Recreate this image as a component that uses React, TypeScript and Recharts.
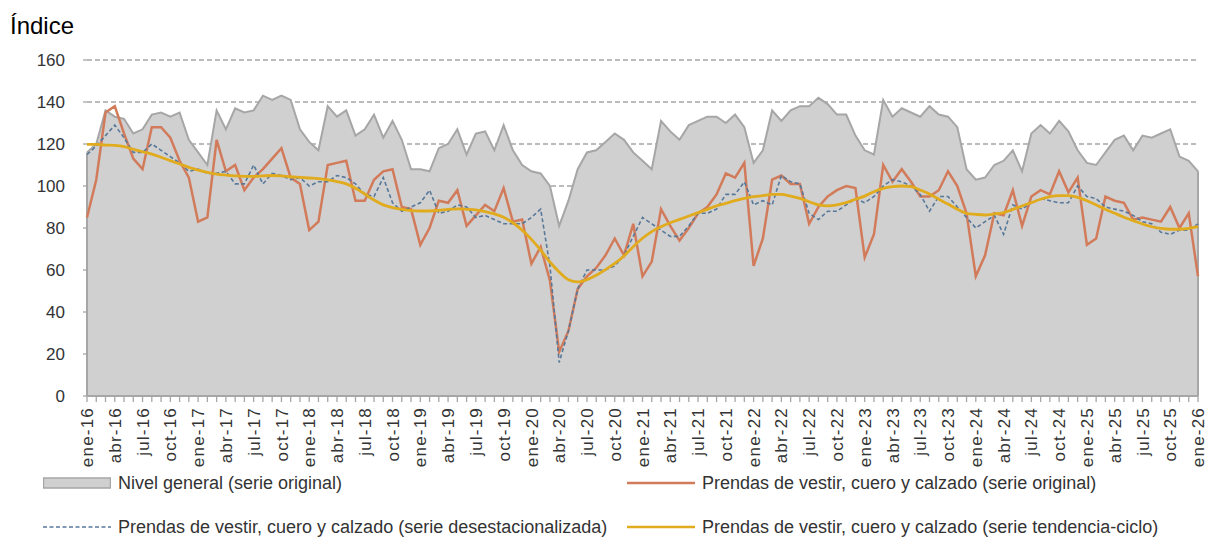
import React from "react";
import {
  ComposedChart, Area, Line, XAxis, YAxis, CartesianGrid, ReferenceLine
} from "recharts";

const MONTHS = ["ene", "feb", "mar", "abr", "may", "jun", "jul", "ago", "sep", "oct", "nov", "dic"];
const YEARS = ["16", "17", "18", "19", "20", "21", "22", "23", "24", "25", "26"];
const CATEGORIES = YEARS.flatMap(y => MONTHS.map(m => `${m}-${y}`)).slice(0, 121);

const Y_TICKS = [0, 20, 40, 60, 80, 100, 120, 140, 160];

// Nivel general (serie original)
const NIVEL = [
  116, 120, 136, 133, 132, 125, 127, 134, 135, 133, 135, 122,
  116, 110, 136, 127, 137, 135, 136, 143, 141, 143, 141, 127,
  121, 117, 138, 133, 136, 124, 127, 134, 123, 131, 122, 108,
  108, 107, 118, 120, 127, 115, 125, 126, 117, 129, 117, 110,
  107, 106, 100, 81, 93, 108, 116, 117, 121, 125, 122, 116,
  112, 108, 131, 126, 122, 129, 131, 133, 133, 130, 134, 128,
  111, 117, 136, 131, 136, 138, 138, 142, 139, 134, 134, 124,
  117, 115, 141, 133, 137, 135, 133, 138, 134, 133, 128, 108,
  103, 104, 110, 112, 117, 107, 125, 129, 125, 131, 126, 117,
  111, 110, 116, 122, 124, 117, 124, 123, 125, 127, 114, 112,
  107,
];

// Prendas de vestir, cuero y calzado (serie original)
const PRENDAS_ORIG = [
  85, 103, 135, 138, 125, 113, 108, 128, 128, 123, 112, 104,
  83, 85, 122, 107, 110, 98, 104, 108, 113, 118, 104, 101,
  79, 83, 110, 111, 112, 93, 93, 103, 107, 108, 90, 89,
  72, 80, 93, 92, 98, 81, 86, 91, 88, 99, 83, 84,
  63, 71, 55, 21, 31, 51, 57, 61, 67, 75, 67, 82,
  57, 64, 89, 81, 74, 80, 87, 90, 96, 106, 104, 111,
  62, 75, 103, 105, 101, 101, 82, 90, 95, 98, 100, 99,
  66, 77, 110, 102, 108, 102, 95, 95, 98, 107, 100, 87,
  57, 67, 87, 86, 98, 81, 95, 98, 96, 107, 97, 104,
  72, 75, 95, 93, 92, 84, 85, 84, 83, 90, 80, 87,
  57,
];

// Prendas de vestir, cuero y calzado (serie desestacionalizada)
const PRENDAS_DESEST = [
  115, 119, 124, 129, 123, 116, 116, 120, 117, 114, 111, 107,
  108, 106, 106, 107, 101, 101, 110, 101, 106, 105, 103, 104,
  100, 102, 102, 105, 104, 101, 96, 95, 104, 92, 88, 90,
  92, 98, 87, 88, 91, 90, 85, 86, 84, 82, 82, 82,
  85, 89, 62, 16, 31, 51, 60, 60, 60, 62, 67, 76,
  85, 82, 79, 76, 76, 81, 87, 87, 89, 96, 96, 102,
  91, 93, 91, 105, 102, 101, 87, 84, 88, 88, 91, 94,
  92, 95, 100, 103, 102, 100, 96, 88, 95, 95, 90, 85,
  80, 83, 86, 77, 91, 89, 92, 94, 93, 92, 92, 100,
  95, 94, 90, 89, 88, 86, 83, 82, 78, 77, 79, 79,
  82,
];

// Prendas de vestir, cuero y calzado (serie tendencia-ciclo)
const PRENDAS_TC = [
  119.8, 119.8, 119.5, 119.3, 118.7, 117.5, 116.3, 115.2, 113.7, 112.1, 110.5, 108.9,
  107.6, 106.5, 105.7, 105.2, 104.8, 104.6, 104.6, 104.8, 105, 104.8, 104.4, 104.1,
  103.8, 103.5, 102.9, 102.1, 101, 98.9, 96.2, 93.3, 91, 89.7, 88.9, 88.3,
  88.1, 88.1, 88.4, 88.9, 89.1, 88.9, 88.6, 87.8, 86.7, 85.1, 82.5, 79,
  74.6, 69.5, 63.8, 59.1, 55.4, 54.3, 55.4, 57.5, 60.2, 63.1, 66.7, 71.1,
  75.1, 78.3, 80.6, 82.5, 84.1, 85.7, 87.3, 88.9, 90.5, 91.7, 93, 94.1,
  94.9, 95.4, 96, 96, 95.2, 94.1, 92.5, 91, 90.5, 91, 92.1, 93.7,
  95.2, 97.3, 98.9, 99.7, 100, 99.7, 98.1, 96.2, 93.7, 91.4, 88.9, 87,
  86.5, 86.2, 86.7, 87.3, 88.9, 90.5, 92.1, 93.7, 94.9, 95.4, 95.4, 94.6,
  93, 91, 88.9, 87, 85.1, 83.5, 81.9, 80.6, 79.8, 79.4, 79.4, 79.8,
  80.6,
];

const GRAY = "#d0d0d0";
const GRAY_LINE = "#a6a6a6";
const ORANGE = "#d27b5b";
const BLUE = "#58789a";
const YELLOW = "#e1ab1e";
const FONT = "'Liberation Sans', Arial, Helvetica, sans-serif";
const TEXT = "#333333";

const data = CATEGORIES.map((m, i) => ({
  m,
  nivel: NIVEL[i],
  orig: PRENDAS_ORIG[i],
  desest: PRENDAS_DESEST[i],
  tc: PRENDAS_TC[i],
}));

const MonthTick = (props: any) => {
  const { x, y, payload, index } = props;
  if (index % 3 !== 0) return <g />;
  return (
    <text
      x={x}
      y={y + 3}
      dy="0.36em"
      transform={`rotate(-90, ${x}, ${y + 3})`}
      textAnchor="end"
      fontSize={17}
      fontFamily={FONT}
      fill={TEXT}
      letterSpacing={1.2}
    >
      {payload.value}
    </text>
  );
};

const LegendItem = ({ left, top, kind, label }: { left: number; top: number; kind: string; label: string }) => (
  <div style={{ position: "absolute", left, top: top - 11, height: 22, display: "flex", alignItems: "center" }}>
    <svg width={68} height={22} style={{ marginRight: 7 }}>
      {kind === "area" && <rect x={0.5} y={6} width={67} height={10} fill={GRAY} stroke={GRAY_LINE} strokeWidth={1.5} />}
      {kind === "orig" && <line x1={0} x2={68} y1={11} y2={11} stroke={ORANGE} strokeWidth={2.5} />}
      {kind === "desest" && <line x1={0} x2={68} y1={11} y2={11} stroke={BLUE} strokeWidth={1.5} strokeDasharray="4 2.5" />}
      {kind === "tc" && <line x1={0} x2={68} y1={11} y2={11} stroke={YELLOW} strokeWidth={2.5} />}
    </svg>
    <span style={{ fontSize: 18, fontFamily: FONT, color: TEXT, whiteSpace: "nowrap" }}>{label}</span>
  </div>
);

export default function App() {
  return (
    <div style={{ position: "absolute", left: 0, top: 0, width: 1208, height: 537, background: "#fff", overflow: "hidden" }}>
      <div style={{ position: "absolute", left: 10, top: 14, fontSize: 24, lineHeight: "24px", fontFamily: FONT, color: "#000" }}>
        Índice
      </div>
      <ComposedChart width={1208} height={537} data={data} margin={{ top: 60, right: 10, left: 0, bottom: 61 }}>
        <CartesianGrid vertical={false} stroke={GRAY_LINE} strokeDasharray="5 3" strokeWidth={1.3} />
        <XAxis
          dataKey="m"
          interval={0}
          height={80}
          tick={<MonthTick />}
          tickSize={6}
          tickLine={{ stroke: GRAY_LINE, strokeWidth: 1.3 }}
          axisLine={{ stroke: GRAY_LINE, strokeWidth: 2 }}
        />
        <YAxis
          width={87}
          domain={[0, 160]}
          ticks={Y_TICKS}
          interval={0}
          axisLine={false}
          tickSize={4}
          tickMargin={18}
          tickLine={{ stroke: GRAY_LINE, strokeWidth: 1.3 }}
          tick={{ fontSize: 17, fill: TEXT, fontFamily: FONT }}
        />
        <Area
          type="linear"
          dataKey="nivel"
          stroke={GRAY_LINE}
          strokeWidth={2}
          fill={GRAY}
          fillOpacity={1}
          dot={false}
          activeDot={false}
          isAnimationActive={false}
        />
        <ReferenceLine segment={[{ x: CATEGORIES[0], y: 0 }, { x: CATEGORIES[0], y: NIVEL[0] }]} stroke={GRAY_LINE} strokeWidth={2} />
        <ReferenceLine segment={[{ x: CATEGORIES[120], y: 0 }, { x: CATEGORIES[120], y: NIVEL[120] }]} stroke={GRAY_LINE} strokeWidth={2} />
        <Line type="linear" dataKey="orig" stroke={ORANGE} strokeWidth={2.5} dot={false} activeDot={false} isAnimationActive={false} />
        <Line type="linear" dataKey="desest" stroke={BLUE} strokeWidth={1.6} strokeDasharray="4 2.5" dot={false} activeDot={false} isAnimationActive={false} />
        <Line type="monotone" dataKey="tc" stroke={YELLOW} strokeWidth={2.8} dot={false} activeDot={false} isAnimationActive={false} />
      </ComposedChart>
      <LegendItem left={43} top={483} kind="area" label="Nivel general (serie original)" />
      <LegendItem left={627} top={483} kind="orig" label="Prendas de vestir, cuero y calzado (serie original)" />
      <LegendItem left={43} top={527} kind="desest" label="Prendas de vestir, cuero y calzado (serie desestacionalizada)" />
      <LegendItem left={627} top={527} kind="tc" label="Prendas de vestir, cuero y calzado (serie tendencia-ciclo)" />
    </div>
  );
}
